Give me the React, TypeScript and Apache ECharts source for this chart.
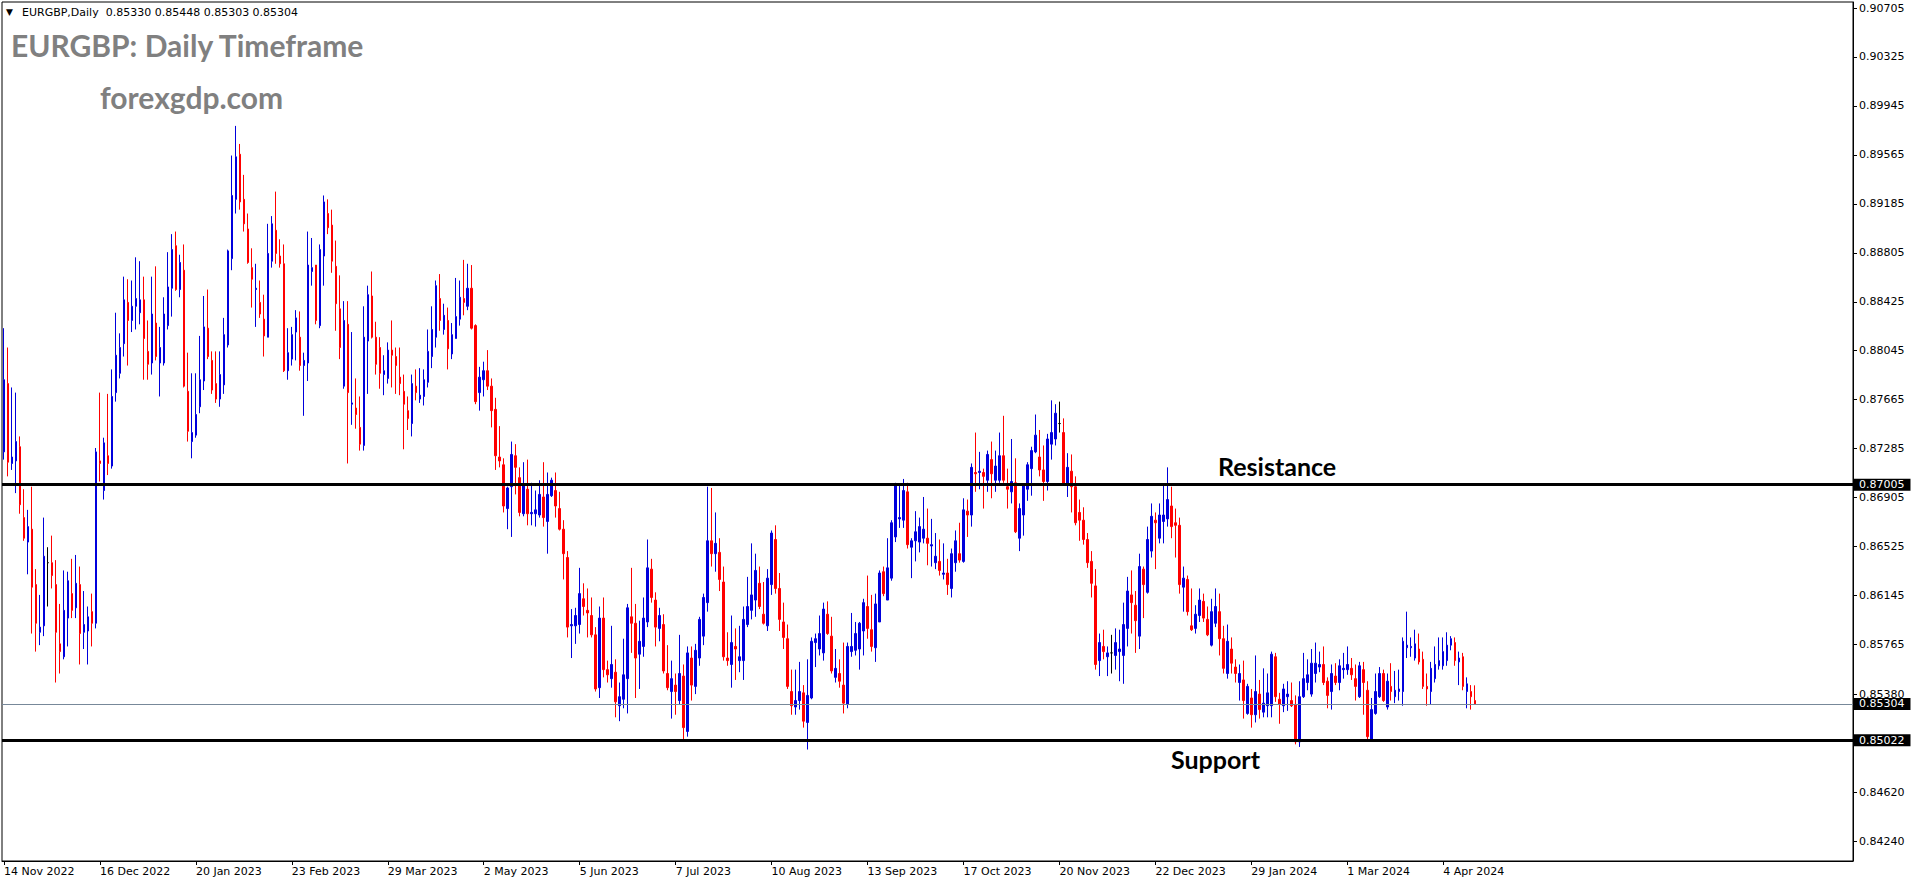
import React, { useEffect, useRef } from 'react';
import * as echarts from 'echarts';

const HEADER_SYMBOL = 'EURGBP,Daily';
const LAST_BAR = [0.8533, 0.85448, 0.85303, 0.85304];
const TITLE = 'EURGBP: Daily Timeframe';
const SITE = 'forexgdp.com';
const RESISTANCE = 0.87005;
const SUPPORT = 0.85022;
const LAST_PRICE = 0.85304;

const DATE_LABELS = ['14 Nov 2022', '16 Dec 2022', '20 Jan 2023', '23 Feb 2023', '29 Mar 2023', '2 May 2023', '5 Jun 2023', '7 Jul 2023', '10 Aug 2023', '13 Sep 2023', '17 Oct 2023', '20 Nov 2023', '22 Dec 2023', '29 Jan 2024', '1 Mar 2024', '4 Apr 2024'];
const BARS_PER_LABEL = 24;
const SLOT_COUNT = 463;

const PRICE_TICKS = [0.90705, 0.90325, 0.89945, 0.89565, 0.89185, 0.88805, 0.88425, 0.88045, 0.87665, 0.87285, 0.86905, 0.86525, 0.86145, 0.85765, 0.8538, 0.8462, 0.8424];
const PRICE_MIN = 0.840848;
const PRICE_MAX = 0.907516;

const OPEN = [
0.8726,0.8779,0.8717,0.8719,0.8730,0.8675,0.8656,0.8666,0.8623,0.8586,0.8591,0.8640,0.8640,0.8623,0.8577,0.8567,0.8597,0.8616,0.8605,0.8623,
0.8586,0.8587,0.8602,0.8593,0.8719,0.8696,0.8723,0.8715,0.8772,0.8787,0.8810,0.8842,0.8828,0.8839,0.8834,0.8844,0.8804,0.8795,0.8826,0.8795,
0.8795,0.8824,0.8853,0.8886,0.8852,0.8867,0.8773,0.8734,0.8739,0.8761,0.8781,0.8822,0.8797,0.8779,0.8767,0.8778,0.8809,0.8876,0.8922,0.8957,
0.8922,0.8899,0.8869,0.8852,0.8842,0.8829,0.8815,0.8874,0.8898,0.8878,0.8872,0.8789,0.8798,0.8819,0.8815,0.8793,0.8795,0.8866,0.8871,0.8824,
0.8878,0.8911,0.8902,0.8870,0.8837,0.8777,0.8825,0.8763,0.8760,0.8745,0.8731,0.8812,0.8847,0.8815,0.8807,0.8786,0.8783,0.8805,0.8800,0.8784,
0.8773,0.8758,0.8748,0.8777,0.8767,0.8769,0.8780,0.8800,0.8815,0.8845,0.8821,0.8828,0.8802,0.8814,0.8829,0.8845,0.8839,0.8853,0.8824,0.8772,
0.8782,0.8789,0.8777,0.8759,0.8722,0.8716,0.8682,0.8699,0.8723,0.8706,0.8678,0.8697,0.8678,0.8678,0.8677,0.8691,0.8672,0.8692,0.8696,0.8682,
0.8666,0.8644,0.8591,0.8591,0.8592,0.8612,0.8603,0.8599,0.8584,0.8543,0.8597,0.8557,0.8550,0.8555,0.8529,0.8534,0.8550,0.8598,0.8593,0.8569,
0.8575,0.8594,0.8635,0.8611,0.8589,0.8592,0.8554,0.8540,0.8545,0.8533,0.8552,0.8509,0.8566,0.8544,0.8566,0.8583,0.8609,0.8657,0.8647,0.8648,
0.8625,0.8566,0.8561,0.8575,0.8564,0.8564,0.8592,0.8603,0.8611,0.8624,0.8600,0.8591,0.8623,0.8658,0.8620,0.8594,0.8581,0.8540,0.8528,0.8533,
0.8539,0.8516,0.8535,0.8578,0.8573,0.8570,0.8600,0.8583,0.8551,0.8554,0.8545,0.8530,0.8571,0.8572,0.8573,0.8587,0.8606,0.8588,0.8574,0.8594,
0.8633,0.8611,0.8628,0.8660,0.8674,0.8673,0.8695,0.8652,0.8657,0.8656,0.8659,0.8659,0.8653,0.8640,0.8641,0.8631,0.8632,0.8620,0.8640,0.8647,
0.8641,0.8680,0.8677,0.8710,0.8710,0.8710,0.8704,0.8720,0.8704,0.8704,0.8723,0.8699,0.8695,0.8702,0.8659,0.8677,0.8697,0.8713,0.8726,0.8722,
0.8712,0.8703,0.8732,0.8736,0.8748,0.8741,0.8701,0.8711,0.8699,0.8679,0.8673,0.8658,0.8641,0.8622,0.8564,0.8575,0.8567,0.8570,0.8568,0.8571,
0.8568,0.8589,0.8615,0.8607,0.8583,0.8635,0.8617,0.8649,0.8673,0.8659,0.8672,0.8674,0.8684,0.8671,0.8669,0.8621,0.8627,0.8591,0.8589,0.8599,
0.8610,0.8596,0.8576,0.8593,0.8602,0.8581,0.8554,0.8573,0.8559,0.8547,0.8549,0.8523,0.8535,0.8522,0.8538,0.8524,0.8529,0.8529,0.8567,0.8534,
0.8529,0.8536,0.8533,0.8530,0.8501,0.8536,0.8547,0.8538,0.8554,0.8559,0.8561,0.8548,0.8540,0.8552,0.8547,0.8557,0.8557,0.8558,0.8550,0.8536,
0.8557,0.8541,0.8502,0.8523,0.8536,0.8554,0.8528,0.8544,0.8536,0.8540,0.8540,0.8574,0.8574,0.8566,0.8573,0.8565,0.8544,0.8540,0.8550,0.8560,
0.8560,0.8564,0.8576,0.8578,0.8563,0.8567,0.8540,0.8540,0.85330
];
const HIGH = [
0.8822,0.8807,0.8776,0.8772,0.8738,0.8697,0.8681,0.8699,0.8635,0.8615,0.8675,0.8652,0.8661,0.8642,0.8608,0.8634,0.8633,0.8643,0.8646,0.8637,
0.8618,0.8606,0.8616,0.8729,0.8772,0.8737,0.8771,0.8790,0.8834,0.8818,0.8862,0.8860,0.8859,0.8877,0.8874,0.8862,0.8828,0.8862,0.8870,0.8823,
0.8846,0.8881,0.8895,0.8897,0.8879,0.8887,0.8803,0.8787,0.8787,0.8816,0.8847,0.8852,0.8804,0.8804,0.8804,0.8830,0.8883,0.8956,0.8979,0.8965,
0.8941,0.8911,0.8884,0.8872,0.8859,0.8848,0.8903,0.8909,0.8928,0.8891,0.8887,0.8822,0.8823,0.8836,0.8835,0.8803,0.8897,0.8892,0.8871,0.8887,
0.8925,0.8922,0.8914,0.8890,0.8863,0.8843,0.8843,0.8819,0.8783,0.8769,0.8839,0.8855,0.8866,0.8827,0.8815,0.8801,0.8811,0.8828,0.8807,0.8807,
0.8786,0.8769,0.8786,0.8790,0.8791,0.8790,0.8821,0.8839,0.8859,0.8864,0.8841,0.8838,0.8826,0.8861,0.8859,0.8875,0.8872,0.8871,0.8825,0.8792,
0.8796,0.8805,0.8783,0.8768,0.8746,0.8721,0.8699,0.8734,0.8732,0.8714,0.8718,0.8720,0.8702,0.8696,0.8704,0.8718,0.8710,0.8706,0.8710,0.8695,
0.8673,0.8649,0.8604,0.8605,0.8636,0.8624,0.8620,0.8613,0.8590,0.8606,0.8613,0.8564,0.8591,0.8565,0.8547,0.8581,0.8608,0.8636,0.8608,0.8595,
0.8613,0.8658,0.8643,0.8617,0.8605,0.8600,0.8576,0.8564,0.8554,0.8584,0.8561,0.8575,0.8575,0.8577,0.8598,0.8616,0.8699,0.8698,0.8679,0.8659,
0.8637,0.8586,0.8599,0.8589,0.8591,0.8606,0.8629,0.8655,0.8647,0.8637,0.8625,0.8635,0.8665,0.8669,0.8632,0.8609,0.8592,0.8557,0.8557,0.8563,
0.8545,0.8565,0.8582,0.8585,0.8599,0.8609,0.8610,0.8598,0.8573,0.8565,0.8578,0.8578,0.8601,0.8594,0.8594,0.8612,0.8630,0.8615,0.8616,0.8634,
0.8637,0.8659,0.8673,0.8702,0.8700,0.8705,0.8702,0.8659,0.8680,0.8675,0.8691,0.8682,0.8674,0.8663,0.8658,0.8655,0.8643,0.8651,0.8665,0.8671,
0.8690,0.8689,0.8717,0.8741,0.8726,0.8713,0.8727,0.8734,0.8727,0.8741,0.8754,0.8713,0.8736,0.8721,0.8686,0.8701,0.8718,0.8730,0.8755,0.8743,
0.8731,0.8740,0.8766,0.8763,0.8765,0.8752,0.8725,0.8724,0.8707,0.8689,0.8683,0.8663,0.8649,0.8635,0.8585,0.8588,0.8575,0.8584,0.8589,0.8588,
0.8609,0.8629,0.8634,0.8618,0.8647,0.8637,0.8668,0.8686,0.8679,0.8686,0.8700,0.8714,0.8699,0.8682,0.8675,0.8637,0.8630,0.8620,0.8607,0.8620,
0.8616,0.8606,0.8612,0.8620,0.8616,0.8591,0.8592,0.8582,0.8565,0.8561,0.8564,0.8546,0.8542,0.8568,0.8549,0.8558,0.8554,0.8571,0.8570,0.8539,
0.8546,0.8548,0.8547,0.8537,0.8548,0.8570,0.8565,0.8573,0.8578,0.8571,0.8575,0.8551,0.8561,0.8562,0.8565,0.8570,0.8575,0.8566,0.8561,0.8563,
0.8563,0.8548,0.8535,0.8554,0.8559,0.8557,0.8554,0.8562,0.8556,0.8557,0.8582,0.8602,0.8582,0.8588,0.8585,0.8571,0.8554,0.8563,0.8575,0.8582,
0.8582,0.8586,0.8583,0.8582,0.8571,0.8570,0.8551,0.8545,0.85448
];
const LOW = [
0.8720,0.8707,0.8712,0.8694,0.8678,0.8657,0.8631,0.8585,0.8571,0.8576,0.8583,0.8606,0.8620,0.8547,0.8554,0.8565,0.8575,0.8597,0.8597,0.8561,
0.8573,0.8561,0.8575,0.8589,0.8703,0.8689,0.8708,0.8713,0.8765,0.8783,0.8800,0.8793,0.8819,0.8821,0.8825,0.8782,0.8782,0.8786,0.8797,0.8769,
0.8793,0.8821,0.8831,0.8851,0.8846,0.8776,0.8734,0.8721,0.8737,0.8756,0.8774,0.8798,0.8771,0.8764,0.8761,0.8771,0.8807,0.8867,0.8911,0.8914,
0.8897,0.8872,0.8838,0.8823,0.8830,0.8800,0.8815,0.8869,0.8872,0.8869,0.8788,0.8782,0.8793,0.8797,0.8789,0.8754,0.8781,0.8855,0.8825,0.8822,
0.8855,0.8895,0.8865,0.8820,0.8798,0.8775,0.8717,0.8747,0.8744,0.8727,0.8727,0.8771,0.8814,0.8786,0.8775,0.8770,0.8779,0.8776,0.8771,0.8770,
0.8728,0.8743,0.8738,0.8766,0.8764,0.8762,0.8776,0.8791,0.8807,0.8820,0.8817,0.8790,0.8798,0.8814,0.8824,0.8832,0.8836,0.8821,0.8763,0.8758,
0.8769,0.8774,0.8745,0.8712,0.8714,0.8679,0.8666,0.8660,0.8693,0.8676,0.8676,0.8669,0.8669,0.8668,0.8675,0.8668,0.8647,0.8691,0.8675,0.8665,
0.8627,0.8582,0.8566,0.8577,0.8585,0.8599,0.8582,0.8582,0.8540,0.8535,0.8551,0.8547,0.8543,0.8520,0.8517,0.8527,0.8523,0.8570,0.8535,0.8542,
0.8567,0.8590,0.8609,0.8575,0.8579,0.8554,0.8541,0.8519,0.8522,0.8530,0.8502,0.8505,0.8533,0.8538,0.8560,0.8576,0.8602,0.8637,0.8633,0.8618,
0.8564,0.8560,0.8543,0.8549,0.8555,0.8549,0.8590,0.8596,0.8598,0.8604,0.8592,0.8587,0.8615,0.8616,0.8587,0.8573,0.8542,0.8522,0.8522,0.8526,
0.8512,0.8495,0.8534,0.8559,0.8568,0.8564,0.8584,0.8554,0.8547,0.8543,0.8523,0.8527,0.8567,0.8568,0.8557,0.8568,0.8581,0.8571,0.8563,0.8594,
0.8614,0.8611,0.8626,0.8656,0.8667,0.8667,0.8651,0.8628,0.8641,0.8648,0.8655,0.8638,0.8637,0.8635,0.8630,0.8627,0.8615,0.8613,0.8633,0.8640,
0.8640,0.8660,0.8668,0.8695,0.8697,0.8682,0.8695,0.8690,0.8695,0.8702,0.8702,0.8682,0.8686,0.8663,0.8649,0.8661,0.8688,0.8692,0.8725,0.8707,
0.8688,0.8696,0.8720,0.8731,0.8741,0.8700,0.8691,0.8679,0.8669,0.8657,0.8654,0.8636,0.8613,0.8557,0.8552,0.8565,0.8552,0.8554,0.8557,0.8548,
0.8546,0.8575,0.8585,0.8570,0.8573,0.8597,0.8616,0.8644,0.8635,0.8655,0.8655,0.8668,0.8659,0.8644,0.8616,0.8602,0.8599,0.8587,0.8585,0.8594,
0.8594,0.8583,0.8575,0.8590,0.8568,0.8554,0.8550,0.8554,0.8547,0.8533,0.8519,0.8522,0.8512,0.8516,0.8519,0.8520,0.8520,0.8520,0.8532,0.8515,
0.8524,0.8525,0.8528,0.8499,0.8497,0.8535,0.8541,0.8536,0.8547,0.8555,0.8545,0.8527,0.8526,0.8545,0.8541,0.8550,0.8553,0.8549,0.8533,0.8535,
0.8522,0.8503,0.8501,0.8522,0.8535,0.8532,0.8526,0.8533,0.8531,0.8533,0.8529,0.8566,0.8567,0.8564,0.8561,0.8542,0.8529,0.8530,0.8547,0.8557,
0.8557,0.8560,0.8572,0.8560,0.8545,0.8541,0.8527,0.8526,0.85303
];
const CLOSE = [
0.8782,0.8718,0.8722,0.8734,0.8685,0.8659,0.8668,0.8621,0.8593,0.8590,0.8645,0.8640,0.8630,0.8586,0.8571,0.8603,0.8626,0.8603,0.8624,0.8585,
0.8592,0.8598,0.8593,0.8726,0.8717,0.8733,0.8717,0.8769,0.8801,0.8807,0.8844,0.8828,0.8839,0.8845,0.8844,0.8814,0.8794,0.8833,0.8800,0.8807,
0.8833,0.8854,0.8883,0.8852,0.8873,0.8777,0.8742,0.8741,0.8755,0.8782,0.8823,0.8800,0.8774,0.8767,0.8786,0.8817,0.8882,0.8925,0.8955,0.8920,
0.8903,0.8873,0.8860,0.8853,0.8833,0.8816,0.8880,0.8903,0.8880,0.8872,0.8789,0.8803,0.8817,0.8830,0.8793,0.8797,0.8871,0.8869,0.8828,0.8883,
0.8920,0.8900,0.8874,0.8841,0.8807,0.8828,0.8772,0.8764,0.8755,0.8732,0.8815,0.8848,0.8815,0.8794,0.8787,0.8789,0.8805,0.8801,0.8793,0.8779,
0.8763,0.8752,0.8779,0.8772,0.8770,0.8782,0.8804,0.8821,0.8855,0.8828,0.8832,0.8806,0.8817,0.8831,0.8846,0.8842,0.8853,0.8822,0.8765,0.8784,
0.8789,0.8777,0.8758,0.8723,0.8719,0.8684,0.8698,0.8724,0.8714,0.8679,0.8700,0.8678,0.8679,0.8681,0.8693,0.8675,0.8693,0.8704,0.8684,0.8666,
0.8647,0.8590,0.8592,0.8599,0.8616,0.8606,0.8601,0.8584,0.8542,0.8597,0.8557,0.8553,0.8561,0.8532,0.8536,0.8553,0.8605,0.8593,0.8566,0.8579,
0.8597,0.8636,0.8613,0.8590,0.8599,0.8556,0.8543,0.8550,0.8540,0.8554,0.8512,0.8570,0.8545,0.8572,0.8596,0.8613,0.8657,0.8647,0.8655,0.8627,
0.8567,0.8564,0.8578,0.8573,0.8567,0.8596,0.8606,0.8615,0.8634,0.8606,0.8593,0.8628,0.8663,0.8620,0.8596,0.8582,0.8544,0.8529,0.8533,0.8540,
0.8517,0.8537,0.8579,0.8581,0.8585,0.8604,0.8585,0.8556,0.8558,0.8548,0.8531,0.8575,0.8575,0.8585,0.8593,0.8609,0.8589,0.8575,0.8608,0.8632,
0.8616,0.8636,0.8671,0.8700,0.8675,0.8696,0.8654,0.8657,0.8664,0.8668,0.8666,0.8655,0.8654,0.8645,0.8634,0.8632,0.8623,0.8647,0.8657,0.8642,
0.8681,0.8677,0.8714,0.8709,0.8711,0.8707,0.8724,0.8709,0.8715,0.8723,0.8704,0.8697,0.8703,0.8664,0.8682,0.8700,0.8716,0.8727,0.8739,0.8712,
0.8703,0.8736,0.8741,0.8756,0.8748,0.8701,0.8714,0.8699,0.8671,0.8673,0.8658,0.8640,0.8624,0.8561,0.8578,0.8571,0.8570,0.8570,0.8578,0.8573,
0.8592,0.8618,0.8609,0.8595,0.8637,0.8623,0.8658,0.8676,0.8671,0.8677,0.8677,0.8689,0.8668,0.8669,0.8623,0.8628,0.8602,0.8588,0.8600,0.8611,
0.8597,0.8584,0.8602,0.8606,0.8581,0.8558,0.8579,0.8562,0.8554,0.8554,0.8533,0.8544,0.8522,0.8540,0.8526,0.8531,0.8539,0.8569,0.8536,0.8530,
0.8542,0.8538,0.8529,0.8501,0.8536,0.8550,0.8553,0.8562,0.8562,0.8561,0.8547,0.8537,0.8554,0.8547,0.8560,0.8558,0.8561,0.8553,0.8544,0.8560,
0.8547,0.8505,0.8526,0.8540,0.8554,0.8533,0.8548,0.8540,0.8541,0.8542,0.8579,0.8576,0.8575,0.8577,0.8563,0.8544,0.8542,0.8558,0.8561,0.8564,
0.8571,0.8576,0.8581,0.8564,0.8566,0.8544,0.8546,0.8536,0.85304
];

const BULL = '#0000DC';
const BEAR = '#FF0000';
const DOJI = '#000000';

const labelAt = (i: number) => i % BARS_PER_LABEL === 0 && i / BARS_PER_LABEL < DATE_LABELS.length;

export default function App() {
  const ref = useRef<HTMLDivElement>(null);

  useEffect(() => {
    document.body.style.margin = '0';
    if (!ref.current) return;
    const chart = echarts.init(ref.current, undefined, { renderer: 'svg' });

    const candles = OPEN.map((o, i) => {
      const v = [o, CLOSE[i], LOW[i], HIGH[i]];
      if (o === CLOSE[i]) {
        return { value: v, itemStyle: { color: DOJI, color0: DOJI, borderColor: DOJI, borderColor0: DOJI } };
      }
      return v;
    });

    const tag = (value: number) => ({
      show: true,
      position: 'end',
      distance: 1,
      formatter: value.toFixed(5),
      color: '#fff',
      backgroundColor: '#000',
      fontFamily: 'DejaVu Sans',
      fontSize: 11,
      lineHeight: 11,
      padding: [1, 6, 0, 5],
    });

    const option: any = {
      animation: false,
      backgroundColor: '#fff',
      grid: { left: 2, top: 2, right: 63, bottom: 23, show: true, borderColor: '#000', borderWidth: 1, backgroundColor: '#fff' },
      xAxis: {
        type: 'category',
        data: Array.from({ length: SLOT_COUNT }, (_, i) => String(i)),
        boundaryGap: true,
        axisLine: { show: true, lineStyle: { color: '#000', width: 1 } },
        axisTick: { show: true, alignWithLabel: true, interval: (i: number) => labelAt(i), length: 4, lineStyle: { color: '#000' } },
        axisLabel: {
          interval: (i: number) => labelAt(i),
          formatter: (_v: string, i: number) => DATE_LABELS[i / BARS_PER_LABEL] ?? '',
          align: 'left',
          margin: 5,
          color: '#000',
          fontFamily: 'DejaVu Sans',
          fontSize: 11,
        },
        splitLine: { show: false },
      },
      yAxis: {
        type: 'value',
        position: 'right',
        min: PRICE_MIN,
        max: PRICE_MAX,
        axisLine: { show: true, lineStyle: { color: '#000', width: 1 } },
        axisTick: { show: true, customValues: PRICE_TICKS, length: 4, lineStyle: { color: '#000' } },
        axisLabel: {
          customValues: PRICE_TICKS,
          formatter: (v: number) => v.toFixed(5),
          color: '#000',
          fontFamily: 'DejaVu Sans',
          fontSize: 11,
          margin: 6,
        },
        splitLine: { show: false },
      },
      series: [
        {
          type: 'candlestick',
          data: candles,
          barWidth: 2,
          silent: true,
          itemStyle: { color: BULL, color0: BEAR, borderColor: BULL, borderColor0: BEAR, borderWidth: 1 },
          markLine: {
            silent: true,
            precision: 5,
            symbol: ['none', 'none'],
            animation: false,
            data: [
              { yAxis: LAST_PRICE, lineStyle: { color: '#778899', width: 1, type: 'solid' }, label: tag(LAST_PRICE) },
              { yAxis: RESISTANCE, lineStyle: { color: '#000', width: 3, type: 'solid' }, label: tag(RESISTANCE) },
              { yAxis: SUPPORT, lineStyle: { color: '#000', width: 3, type: 'solid' }, label: tag(SUPPORT) },
            ],
          },
        },
      ],
      graphic: [
        { type: 'text', x: 6, y: 12, style: { text: '▼', fontSize: 9, fill: '#000', align: 'left', verticalAlign: 'middle', fontFamily: 'DejaVu Sans' } },
        {
          type: 'text', x: 22, y: 12,
          style: {
            text: HEADER_SYMBOL + '  ' + LAST_BAR.map((v) => v.toFixed(5)).join(' '),
            fontSize: 11, fill: '#000', align: 'left', verticalAlign: 'middle', fontFamily: 'DejaVu Sans',
          },
        },
        { type: 'text', x: 11, y: 45, style: { text: TITLE, fontSize: 30, fontWeight: 'bold', fill: '#808080', align: 'left', verticalAlign: 'middle', fontFamily: 'Lato' } },
        { type: 'text', x: 100, y: 97, style: { text: SITE, fontSize: 30, fontWeight: 'bold', fill: '#808080', align: 'left', verticalAlign: 'middle', fontFamily: 'Lato' } },
        { type: 'text', x: 1218, y: 466, style: { text: 'Resistance', fontSize: 25, fontWeight: 'bold', fill: '#000', align: 'left', verticalAlign: 'middle', fontFamily: 'Lato' } },
        { type: 'text', x: 1171, y: 759, style: { text: 'Support', fontSize: 25, fontWeight: 'bold', fill: '#000', align: 'left', verticalAlign: 'middle', fontFamily: 'Lato' } },
      ],
    };

    chart.setOption(option);
    return () => chart.dispose();
  }, []);

  return <div ref={ref} style={{ width: 1916, height: 884 }} />;
}
